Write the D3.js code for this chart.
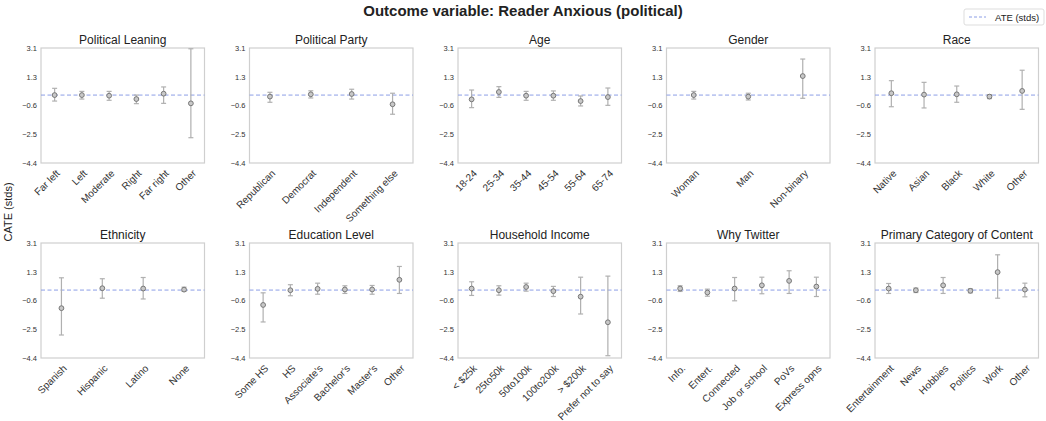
<!DOCTYPE html>
<html>
<head>
<meta charset="utf-8">
<script src="https://cdn.jsdelivr.net/npm/d3@7"></script>
<style>
  body { margin: 0; background: #fff; }
  text { font-family: "Liberation Sans", Arial, sans-serif; }
</style>
</head>
<body>
<script>
const titles = ["Political Leaning", "Political Party", "Age", "Gender", "Race",
  "Ethnicity", "Education Level", "Household Income", "Why Twitter", "Primary Category of Content"];

const categories = [
  ["Far left", "Left", "Moderate", "Right", "Far right", "Other"],
  ["Republican", "Democrat", "Independent", "Something else"],
  ["18-24", "25-34", "35-44", "45-54", "55-64", "65-74"],
  ["Woman", "Man", "Non-binary"],
  ["Native", "Asian", "Black", "White", "Other"],
  ["Spanish", "Hispanic", "Latino", "None"],
  ["Some HS", "HS", "Associate's", "Bachelor's", "Master's", "Other"],
  ["< $25k", "25to50k", "50to100k", "100to200k", "> $200k", "Prefer not to say"],
  ["Info.", "Entert.", "Connected", "Job or school", "PoVs", "Express opns"],
  ["Entertainment", "News", "Hobbies", "Politics", "Work", "Other"]
];

const cate = [
  [0.03, 0.03, -0.01, -0.23, 0.12, -0.51],
  [-0.07, 0.08, 0.10, -0.57],
  [-0.25, 0.23, -0.01, -0.01, -0.36, -0.10],
  [0.03, -0.07, 1.27],
  [0.15, 0.06, 0.08, -0.07, 0.30],
  [-1.15, 0.15, 0.13, 0.06],
  [-0.94, 0.02, 0.11, 0.07, 0.07, 0.70],
  [0.13, 0.02, 0.23, -0.04, -0.40, -2.07],
  [0.13, -0.13, 0.13, 0.34, 0.63, 0.26],
  [0.13, 0.02, 0.34, -0.02, 1.20, 0.06]
];

const lower = [
  [-0.36, -0.23, -0.31, -0.53, -0.51, -2.75],
  [-0.44, -0.16, -0.23, -1.22],
  [-0.79, -0.12, -0.31, -0.31, -0.68, -0.64],
  [-0.23, -0.29, -0.18],
  [-0.73, -0.81, -0.44, -0.20, -0.90],
  [-2.90, -0.50, -0.55, -0.06],
  [-2.05, -0.34, -0.24, -0.19, -0.24, -0.19],
  [-0.32, -0.30, -0.04, -0.39, -1.53, -4.25],
  [-0.06, -0.37, -0.67, -0.21, -0.19, -0.39],
  [-0.19, -0.13, -0.19, -0.15, -0.50, -0.41]
];

const upper = [
  [0.47, 0.27, 0.27, 0.03, 0.56, 3.05],
  [0.21, 0.31, 0.41, 0.15],
  [0.36, 0.58, 0.27, 0.30, -0.03, 0.49],
  [0.27, 0.15, 2.38],
  [0.97, 0.86, 0.62, 0.06, 1.65],
  [0.83, 0.77, 0.85, 0.22],
  [-0.15, 0.38, 0.48, 0.31, 0.33, 1.57],
  [0.57, 0.31, 0.48, 0.27, 0.87, 0.94],
  [0.31, 0.09, 0.85, 0.87, 1.29, 0.87],
  [0.46, 0.16, 0.85, 0.12, 2.33, 0.48]
];

const ate = 0.03;
const yTickLabels = ["\u22124.4", "\u22122.5", "\u22120.6", "1.3", "3.1"];
const yMin = -4.4, yMax = 3.1;

const W = 1046, H = 421;
const svg = d3.select("body").append("svg")
  .attr("width", W)
  .attr("height", H);

svg.append("text")
  .attr("x", 523).attr("y", 16)
  .attr("text-anchor", "middle")
  .style("font-size", "15px")
  .style("font-weight", "bold")
  .style("fill", "#222")
  .text("Outcome variable: Reader Anxious (political)");

svg.append("text")
  .attr("transform", "translate(12,212) rotate(-90)")
  .attr("text-anchor", "middle")
  .style("font-size", "11px")
  .style("fill", "#222")
  .text("CATE (stds)");

// legend
const leg = svg.append("g").attr("transform", "translate(964,9)");
leg.append("rect")
  .attr("width", 80).attr("height", 16).attr("rx", 2)
  .style("fill", "#fff").style("stroke", "#ddd");
leg.append("line")
  .attr("x1", 5).attr("x2", 22).attr("y1", 8).attr("y2", 8)
  .style("stroke", "#8c9ee6").style("stroke-dasharray", "3,2");
leg.append("text")
  .attr("x", 31).attr("y", 11.5)
  .style("font-size", "9.5px").style("fill", "#222")
  .text("ATE (stds)");

const pw = 163.5, ph = 115;
const lefts = [41, 249.5, 458, 666.5, 875];
const tops = [48, 243];

const yTickVals = d3.range(5).map(i => yMin + i * (yMax - yMin) / 4);

titles.forEach((title, p) => {
  const left = lefts[p % 5], top = tops[Math.floor(p / 5)];
  const g = svg.append("g").attr("transform", `translate(${left},${top})`);

  const x = d3.scaleBand().domain(categories[p]).range([0, pw]).padding(0);
  const y = d3.scaleLinear().domain([yMin, yMax]).range([ph, 0]);

  g.append("rect")
    .attr("width", pw).attr("height", ph)
    .style("fill", "none").style("stroke", "#cfcfcf").style("stroke-width", 1.2);

  g.append("text")
    .attr("x", pw / 2).attr("y", -4)
    .attr("text-anchor", "middle")
    .style("font-size", "12px").style("fill", "#222")
    .text(title);

  const yAxis = g.append("g")
    .call(d3.axisLeft(y).tickValues(yTickVals).tickSize(0).tickPadding(4)
      .tickFormat((d, i) => yTickLabels[i]));
  yAxis.select(".domain").remove();
  yAxis.selectAll("text").style("font-size", "7.5px").style("fill", "#333")
    .style("font-family", "'Liberation Sans', Arial, sans-serif");

  const xAxis = g.append("g")
    .attr("transform", `translate(0,${ph})`)
    .call(d3.axisBottom(x).tickSize(0).tickPadding(0));
  xAxis.select(".domain").remove();
  xAxis.selectAll("text")
    .attr("text-anchor", "end")
    .attr("transform", "translate(1,6) rotate(-45)")
    .attr("dy", "0.7em")
    .style("font-size", "10px").style("fill", "#333")
    .style("font-family", "'Liberation Sans', Arial, sans-serif");

  g.append("line")
    .attr("x1", 0).attr("x2", pw)
    .attr("y1", y(ate)).attr("y2", y(ate))
    .style("stroke", "#8c9ee6").style("stroke-width", 1)
    .style("stroke-dasharray", "4,2.5");

  const rows = categories[p].map((c, i) => ({ c, v: cate[p][i], lo: lower[p][i], hi: upper[p][i] }));
  const cx = d => x(d.c) + x.bandwidth() / 2;

  g.selectAll(".err").data(rows).join("line")
    .attr("x1", cx).attr("x2", cx)
    .attr("y1", d => y(d.lo)).attr("y2", d => y(d.hi))
    .style("stroke", "#b0b0b0").style("stroke-width", 1.2);
  ["lo", "hi"].forEach(k => {
    g.selectAll(".cap" + k).data(rows).join("line")
      .attr("x1", d => cx(d) - 2.5).attr("x2", d => cx(d) + 2.5)
      .attr("y1", d => y(d[k])).attr("y2", d => y(d[k]))
      .style("stroke", "#b0b0b0").style("stroke-width", 1.2);
  });
  g.selectAll(".pt").data(rows).join("circle")
    .attr("cx", cx).attr("cy", d => y(d.v)).attr("r", 2.4)
    .style("fill", "#c8c8c8").style("stroke", "#777").style("stroke-width", 1);
});
</script>
</body>
</html>
